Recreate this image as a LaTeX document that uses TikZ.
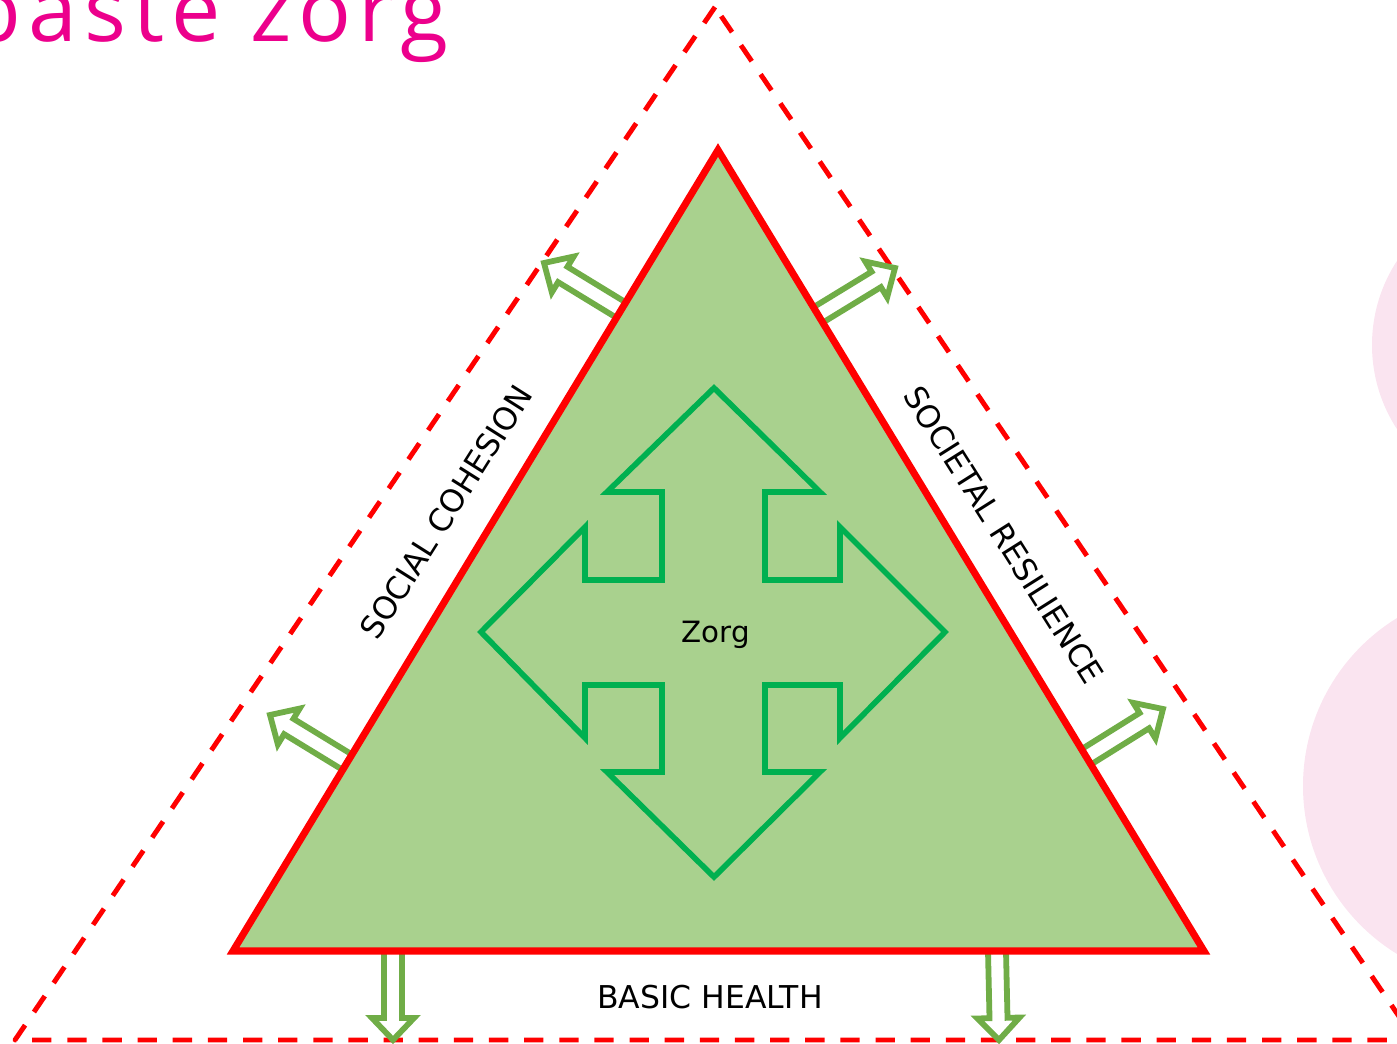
\documentclass[tikz,border=0pt]{standalone}
\usepackage{fontspec}
\setmainfont{DejaVu Sans}
\newfontfamily\titlefont[LetterSpace=8]{Open Sans}
\usepackage{tikz}
\usetikzlibrary{calc}
\definecolor{zorgpink}{HTML}{EC008C}
\definecolor{blushpink}{HTML}{FAE4F0}
\definecolor{leafgreen}{HTML}{A9D18E}
\definecolor{arrowgreen}{HTML}{00B050}
\definecolor{outgreen}{HTML}{70AD47}
\newcommand*{\shaftW}{0.18cm}
\newcommand*{\headW}{0.42cm}
\newcommand*{\headL}{0.44cm}

\begin{document}
\begin{tikzpicture}[x=0.02cm,y=-0.02cm,
	outer/.style={draw=red,line width=2.8pt,line join=round,dash pattern=on 11pt off 9pt},
	inner/.style={draw=red,fill=leafgreen,line width=4pt,line join=miter},
	quad/.style={draw=arrowgreen,line width=3.2pt,line join=miter},
	outarrow/.style={draw=outgreen,fill=white,line width=3.3pt,line join=miter},
	side/.style={font=\fontsize{17.9}{20}\selectfont}]
	\useasboundingbox (0,0) rectangle (1397,1044);
	\clip (0,0) rectangle (1397,1044);
	% pink blobs on the right
	\fill[blushpink] (1526,345) circle[radius=154];
	\fill[blushpink] (1500,786) circle[radius=197];
	\node[font=\titlefont\fontsize{50}{56}\selectfont,text=zorgpink,anchor=base west,inner sep=0pt] (title) at (-33,42) {baste zorg};
	% outer dashed triangle
	\draw[outer] (715,7) -- (15,1040) -- (1415,1040) -- cycle;
	% inner triangle corners
	\coordinate (top) at (718,150);
	\coordinate (bl) at (233,951);
	\coordinate (br) at (1204,951);
	% small outward arrows
	\coordinate (a1) at (621,310); \coordinate (t1) at (544,263);
	\coordinate (a2) at (818,315); \coordinate (t2) at (895,268);
	\coordinate (a3) at (347,762); \coordinate (t3) at (270,715);
	\coordinate (a4) at (1086,757); \coordinate (t4) at (1163,709);
	\coordinate (a5) at (393,951); \coordinate (t5) at (393,1040);
	\coordinate (a6) at (997,951); \coordinate (t6) at (999,1040);
	\foreach \s/\t in {a1/t1,a2/t2,a3/t3,a4/t4,a5/t5,a6/t6}{
		\coordinate (h) at ($(\t)!\headL!(\s)$);
		\draw[outarrow] ($(\s)!\shaftW!90:(\t)$) -- ($(h)!\shaftW!90:(\t)$) -- ($(h)!\headW!90:(\t)$) -- (\t) -- ($(h)!\headW!-90:(\t)$) -- ($(h)!\shaftW!-90:(\t)$) -- ($(\s)!\shaftW!-90:(\t)$) -- cycle;
	}
	\draw[inner] (top) -- (bl) -- (br) -- cycle;
	% four-way arrow
	\draw[quad] (714,388) -- (820,492) -- (765,492) -- (765,580) -- (840,580) -- (840,527) -- (945,632) -- (840,738) -- (840,685) -- (765,685) -- (765,772) -- (820,772) -- (714,877) -- (607,772) -- (662,772) -- (662,685) -- (585,685) -- (585,738) -- (481,632) -- (585,527) -- (585,580) -- (662,580) -- (662,492) -- (607,492) -- cycle;
	\node[font=\fontsize{16.7}{19}\selectfont] (zorg) at (716,635) {Zorg};
	\node[side,rotate=57.7] (cohesion) at (446,512) {SOCIAL COHESION};
	\node[side,rotate=-57.7] (resilience) at (1004,535) {SOCIETAL RESILIENCE};
	\node[side] (health) at (710,997) {BASIC HEALTH};
\end{tikzpicture}
\end{document}
